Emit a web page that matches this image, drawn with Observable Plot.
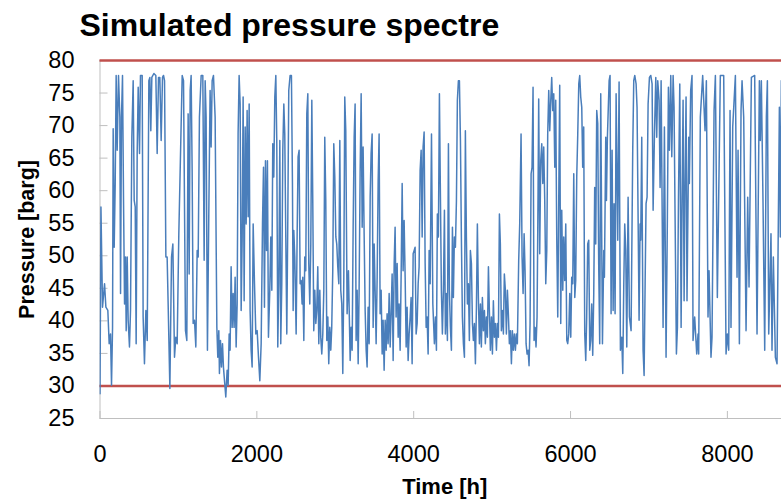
<!DOCTYPE html>
<html>
<head>
<meta charset="utf-8">
<script src="https://cdn.jsdelivr.net/npm/d3@7"></script>
<script src="https://cdn.jsdelivr.net/npm/@observablehq/plot@0.6"></script>
<style>
html,body{margin:0;padding:0;background:#fff;}
#chart{width:781px;height:500px;}
</style>
</head>
<body>
<div id="chart"></div>
<script>
// [hour, pressure barg], by stretch of the year
const stretch1 = [[0,28.8],[12,57.5],[32,42.1],[58,45.7],[75,42.1],[100,41.6],[117,36.5],[134,38.0],[147,30.1],[160,39.0],[168,69.5],[181,51.3],[194,61.1],[206,77.7],[219,66.2],[236,77.7],[253,71.3],[262,44.2],[274,71.3],[287,77.7],[300,58.5],[313,42.6],[325,49.8],[334,38.5],[347,49.8],[359,40.1],[376,36.0],[389,41.6],[406,68.2],[423,76.9],[436,58.5],[449,57.5],[461,36.5],[474,65.7],[487,75.9],[504,65.7],[516,77.7],[538,77.7],[550,40.6],[567,33.4],[585,41.6],[602,37.0],[623,76.9],[636,77.4],[648,69.2],[661,77.4],[687,78.0],[712,77.7],[729,65.7],[746,77.4],[763,77.4],[780,67.7],[797,77.4],[810,77.7],[823,76.9],[840,49.8],[856,49.8],[869,42.6],[891,29.6],[912,49.8],[929,51.8],[950,34.4],[967,37.5],[984,36.5],[1005,53.4]];
const stretch2 = [[1048,77.7],[1065,76.9],[1090,38.5],[1107,37.0],[1124,71.8],[1137,47.2],[1150,75.4],[1162,77.7],[1175,63.1],[1188,39.6],[1205,40.1],[1222,36.0],[1239,50.8],[1252,49.8],[1268,71.3],[1290,77.7],[1311,77.7],[1328,49.3],[1341,76.9],[1353,71.3],[1370,35.5],[1387,56.0],[1404,75.4],[1417,66.7],[1430,76.9],[1447,77.7],[1468,71.3],[1490,39.0],[1502,34.4],[1515,38.5],[1523,31.9],[1536,37.0],[1549,32.9],[1562,36.5],[1574,32.9],[1591,30.3],[1604,28.3],[1621,32.4],[1634,30.1],[1647,38.0],[1659,35.5],[1672,48.3],[1685,39.0],[1698,44.2],[1710,39.0],[1723,46.7],[1736,36.0],[1749,42.6],[1761,68.7],[1774,77.7],[1787,73.3],[1800,41.6],[1813,52.9],[1825,74.4],[1838,43.1],[1851,69.8],[1864,54.9],[1876,72.3],[1889,56.0],[1902,73.3],[1914,41.6],[1927,35.5],[1940,32.9],[1953,54.9],[1970,45.7],[1987,38.0],[2004,38.5],[2021,34.4],[2038,30.8],[2055,36.5],[2072,54.9],[2085,63.6]];
const stretch3 = [[2097,42.1],[2110,64.6],[2123,50.8],[2135,64.6],[2148,37.5],[2165,44.7],[2178,52.9],[2191,44.7],[2203,67.2],[2216,62.1],[2229,74.4],[2242,77.7],[2254,67.7],[2267,36.0],[2280,45.7],[2293,67.7],[2305,36.5],[2318,45.7],[2331,66.2],[2344,73.3],[2356,68.7],[2369,52.9],[2382,38.0],[2395,56.0],[2407,75.4],[2424,77.7],[2441,77.7],[2454,61.1],[2463,41.6],[2471,53.9],[2484,49.8],[2501,38.0],[2514,53.4],[2526,65.2],[2539,66.2],[2552,45.7],[2565,46.2],[2577,42.6],[2586,46.7],[2599,37.0],[2611,49.8],[2624,47.7],[2637,71.8],[2650,74.9],[2662,48.8],[2675,42.6],[2688,51.8],[2701,73.9],[2713,58.5],[2726,38.5],[2739,44.7],[2752,39.6],[2764,41.6],[2777,48.3],[2790,36.5],[2803,44.7],[2815,37.5],[2828,34.9],[2841,38.0],[2854,44.7],[2866,68.2],[2879,58.5],[2892,37.0],[2905,40.6],[2917,33.4],[2930,39.0],[2943,35.5],[2955,39.0],[2968,47.7],[2981,67.2],[2994,62.1],[3007,52.9],[3019,51.8],[3032,48.3],[3045,45.7],[3058,67.7],[3070,44.7],[3083,42.6],[3096,31.9],[3109,46.7],[3121,74.4],[3134,69.2],[3151,41.1],[3168,47.7]];
const stretch4 = [[3190,33.9],[3202,39.0],[3215,35.5],[3228,54.4],[3241,68.2],[3253,73.3],[3266,37.0],[3279,44.7],[3292,33.4],[3304,44.7],[3317,62.6],[3330,74.9],[3343,54.4],[3355,66.7],[3368,53.4],[3381,41.6],[3394,35.5],[3406,32.9],[3419,42.1],[3432,36.5],[3445,59.0],[3457,65.7],[3470,68.7],[3483,39.0],[3496,51.8],[3508,44.7],[3521,36.5],[3534,46.7],[3547,61.6],[3559,68.7],[3572,41.1],[3585,44.7],[3598,34.9],[3610,40.1],[3623,32.4],[3636,40.1],[3649,35.5],[3661,41.1],[3674,36.5],[3687,44.2],[3700,36.0],[3712,41.1],[3725,47.2],[3738,33.9],[3751,48.8],[3763,54.4],[3776,40.6],[3789,48.8],[3802,37.5],[3814,42.6],[3827,35.5],[3840,47.2],[3853,61.1],[3865,47.7],[3878,55.4],[3891,46.7],[3904,36.0],[3916,42.1],[3929,33.9],[3942,38.0],[3955,40.6],[3967,43.6],[3980,33.4],[3993,50.3],[4006,50.8],[4018,51.3],[4031,38.0],[4044,39.6],[4057,45.7],[4069,48.3],[4082,63.1],[4095,66.2],[4108,52.9],[4120,66.7],[4133,69.0],[4146,48.8],[4159,39.0],[4171,40.6],[4184,34.9],[4197,50.8],[4210,45.7],[4227,68.7],[4244,42.6]];
const stretch5 = [[4264,36.5],[4277,40.6],[4290,35.5],[4302,56.4],[4315,52.9],[4328,74.9],[4341,59.0],[4353,44.7],[4366,38.0],[4379,44.7],[4392,57.0],[4404,38.0],[4417,44.2],[4430,37.0],[4443,67.2],[4455,44.7],[4468,39.0],[4481,35.5],[4494,54.4],[4506,43.6],[4519,52.9],[4532,51.3],[4545,58.5],[4557,73.9],[4570,76.9],[4583,76.9],[4596,67.7],[4608,52.9],[4621,40.6],[4634,36.5],[4647,34.4],[4659,69.2],[4672,52.9],[4685,42.6],[4698,45.7],[4710,37.0],[4723,50.8],[4736,48.8],[4749,39.6],[4761,37.0],[4774,39.6],[4787,33.4],[4800,42.1],[4812,54.9],[4825,43.6],[4838,36.5],[4851,42.6],[4863,36.0],[4876,43.6],[4889,38.5],[4902,41.6],[4914,36.5],[4927,40.6],[4940,37.5],[4953,48.3],[4965,41.6],[4978,35.5],[4991,40.6],[5004,34.9],[5016,43.1],[5029,37.5],[5042,39.6],[5055,35.5],[5067,39.6],[5080,37.5],[5093,56.4],[5105,51.8],[5118,38.5],[5131,41.6],[5144,38.0],[5156,47.2],[5169,44.7],[5182,38.0],[5195,44.7],[5207,41.1],[5220,36.5],[5233,38.5],[5246,33.4],[5258,38.5],[5271,35.5],[5284,38.0],[5297,35.5],[5310,38.0],[5322,36.5],[5339,49.3]];
const stretch6 = [[5352,54.9],[5369,68.7],[5382,49.8],[5395,44.2],[5408,53.4],[5420,47.7],[5433,36.5],[5446,34.9],[5459,35.5],[5471,33.1],[5484,39.6],[5497,62.6],[5509,63.6],[5522,75.9],[5535,37.0],[5548,39.0],[5560,36.0],[5573,40.6],[5586,60.0],[5594,74.1],[5607,50.3],[5620,64.6],[5633,67.2],[5646,61.1],[5658,66.7],[5671,58.5],[5684,45.7],[5697,50.8],[5709,68.7],[5722,75.4],[5735,69.2],[5748,73.9],[5760,77.4],[5773,72.3],[5786,74.9],[5799,63.6],[5811,73.9],[5824,52.9],[5837,40.6],[5850,59.0],[5862,76.2],[5875,39.6],[5888,57.0],[5901,44.7],[5913,52.9],[5926,46.2],[5939,54.9],[5952,37.0],[5964,36.5],[5977,38.0],[5990,44.2],[6003,37.5],[6015,46.7],[6028,45.7],[6041,62.6],[6054,43.6],[6066,46.2],[6079,62.1],[6092,68.7],[6105,76.4],[6117,77.7],[6130,74.4],[6143,72.8],[6155,63.6],[6168,69.8],[6181,38.0],[6194,33.9],[6206,40.6],[6219,51.8],[6232,52.4],[6245,35.5],[6257,37.0],[6270,42.6],[6283,34.7],[6296,44.2],[6308,60.5],[6321,51.8],[6334,72.3],[6347,70.3],[6359,48.8],[6372,36.5],[6385,74.9]];
const stretch7 = [[6407,36.5],[6424,50.8],[6432,46.7],[6449,68.2],[6458,58.5],[6470,68.2],[6492,76.9],[6504,77.7],[6517,41.1],[6530,66.2],[6543,41.6],[6555,58.0],[6568,41.1],[6581,74.9],[6602,52.4],[6619,76.7],[6636,35.5],[6653,37.5],[6666,31.9],[6679,45.7],[6691,54.9],[6704,50.8],[6717,36.0],[6734,59.0],[6751,40.6],[6772,38.5],[6793,66.2],[6806,76.9],[6819,77.7],[6836,76.4],[6848,72.8],[6874,40.1],[6887,54.9],[6895,52.4],[6908,68.2],[6925,35.5],[6938,31.6],[6951,45.7],[6963,58.0],[6976,59.0],[6989,73.3],[7006,77.4],[7023,77.7],[7040,76.4],[7053,57.0],[7070,68.7],[7087,77.4],[7099,68.2],[7112,76.9],[7129,73.9],[7142,60.5],[7155,76.9],[7180,39.0],[7197,69.8],[7218,34.4],[7235,56.0],[7248,75.9],[7261,66.2],[7278,77.7],[7291,65.2],[7308,77.7],[7320,72.8],[7333,56.0],[7350,34.9],[7363,39.0],[7376,58.5],[7393,76.4],[7410,39.0],[7422,58.5],[7435,73.9],[7448,43.1],[7460,61.1],[7473,74.4]];
const stretch8 = [[7485,43.1],[7507,68.2],[7515,61.1],[7532,75.4],[7549,77.7],[7562,37.0],[7583,40.6],[7609,34.9],[7626,38.0],[7634,34.9],[7655,71.3],[7685,77.7],[7715,69.2],[7732,76.9],[7753,40.6],[7766,47.7],[7791,34.4],[7804,37.5],[7830,72.3],[7847,77.7],[7872,43.6],[7910,77.7],[7953,77.7],[7983,34.9],[8000,38.0],[8017,35.5],[8034,72.3],[8046,39.0],[8068,69.8],[8102,77.7],[8123,46.7],[8136,66.2],[8153,36.5],[8174,72.3],[8187,76.9],[8208,71.3],[8238,38.5],[8259,59.0],[8276,45.2],[8306,77.4],[8348,77.7],[8378,38.0],[8408,76.9],[8420,67.7],[8433,76.9],[8454,58.5],[8476,35.5],[8497,71.3],[8510,76.9],[8527,38.0],[8556,53.4],[8569,35.5],[8586,49.8],[8612,34.4],[8633,33.4],[8663,72.8],[8675,52.9],[8688,76.9]];

const limits = [30, 80];            // red limit lines, barg
const yTicks = [25, 30, 35, 40, 45, 50, 55, 60, 65, 70, 75, 80];
const xTicks = [0, 2000, 4000, 6000, 8000];
const xDomain = [0, 8690];
const yDomain = [25, 80];
const title = "Simulated pressure spectre";
const xLabel = "Time [h]";
const yLabel = "Pressure [barg]";

const rows = [...stretch1, ...stretch2, ...stretch3, ...stretch4, ...stretch5, ...stretch6, ...stretch7, ...stretch8]
  .map(([h, p]) => ({h, p}));

const axisGray = "#bfbfbf";
const font = "'Liberation Sans', Arial, sans-serif";

const chart = Plot.plot({
  width: 781,
  height: 500,
  marginLeft: 99.5,
  marginRight: 0,
  marginTop: 60,
  marginBottom: 82,
  style: {fontFamily: font, color: "#000", background: "#fff", overflow: "visible"},
  x: {domain: xDomain},
  y: {domain: yDomain},
  marks: [
    Plot.ruleX([xTicks[0]], {stroke: axisGray, strokeWidth: 1}),
    Plot.ruleY([yTicks[0]], {stroke: axisGray, strokeWidth: 1}),
    Plot.axisY({ticks: yTicks, tickSize: 0, tickPadding: 25.5, fontSize: 23.5, label: null}),
    Plot.axisY({ticks: yTicks, tickSize: 8, dx: 8, fill: "none", label: null, stroke: axisGray}),
    Plot.axisX({ticks: xTicks, tickSize: 0, tickPadding: 27, fontSize: 23.5, label: null, tickFormat: d => String(d)}),
    Plot.axisX({ticks: xTicks, tickSize: 7, dy: -7, fill: "none", label: null, stroke: axisGray}),
    Plot.ruleY(limits, {stroke: "#c0504d", strokeWidth: 2.5}),
    Plot.line(rows, {x: "h", y: "p", stroke: "#4a7ebb", strokeWidth: 1.5, clip: true}),
    Plot.text([yLabel], {text: d => d, frameAnchor: "left", textAnchor: "middle", lineAnchor: "middle", rotate: -90, dx: -73, fontSize: 21.5, fontWeight: "bold"}),
    Plot.text([xLabel], {text: d => d, frameAnchor: "bottom", textAnchor: "middle", lineAnchor: "middle", dx: 4, dy: 68.5, fontSize: 22, fontWeight: "bold"}),
    Plot.text([title], {text: d => d, frameAnchor: "top-left", textAnchor: "start", lineAnchor: "middle", dx: -20.5, dy: -35.2, fontSize: 32, fontWeight: "bold"})
  ]
});
document.getElementById("chart").appendChild(chart);
</script>
</body>
</html>
